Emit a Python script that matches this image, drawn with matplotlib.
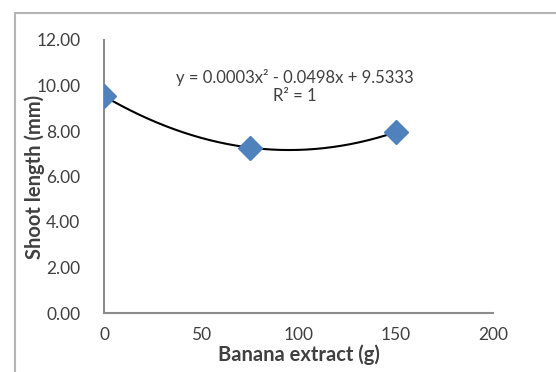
import numpy as np
import matplotlib.pyplot as plt
from matplotlib.patches import Rectangle

extract = [0, 75, 150]
shoot = [9.5333, 7.27, 7.95]
xticks = [0, 50, 100, 150, 200]
yticks = [0, 2, 4, 6, 8, 10, 12]

plt.rcParams["font.family"] = ["Lato", "DejaVu Sans"]
txt = "#404040"

fig = plt.figure(figsize=(5.56, 3.72), dpi=100)
fig.patches.append(Rectangle((15 / 556, -0.1), 1.2, 1 - 13 / 372 + 0.1,
                             transform=fig.transFigure, fill=False,
                             edgecolor="#b4b4b4", linewidth=1.5))
ax = fig.add_axes([104 / 556, 59 / 372, 389 / 556, 273 / 372])

# quadratic trendline through the points
z = np.polyfit(extract, shoot, 2)
p = np.poly1d(z)
xs = np.linspace(0, 150, 200)
ax.plot(xs, p(xs), color="black", linewidth=1.5, zorder=2)
ax.plot(extract, shoot, linestyle="none", marker="D", markersize=12,
        color="#4f81bd", zorder=3)

ax.set_xlim(0, 200)
ax.set_ylim(0, 12)
ax.set_xticks(xticks)
ax.set_yticks(yticks)
ax.set_yticklabels([f"{v:.2f}" for v in yticks])
ax.tick_params(length=0, labelsize=12.5, colors=txt)
ax.tick_params(axis="y", pad=17)
ax.tick_params(axis="x", pad=10)
for s in ["top", "right"]:
    ax.spines[s].set_visible(False)
for s in ["left", "bottom"]:
    ax.spines[s].set_color("#8c8c8c")
    ax.spines[s].set_linewidth(1.5)

ax.set_xlabel("Banana extract (g)", fontsize=14.5, fontweight="bold",
              color=txt, labelpad=1)
ax.set_ylabel("Shoot length (mm)", fontsize=14.5, fontweight="bold",
              color=txt, labelpad=-6)

ax.text(98, 9.95, "y = 0.0003x² - 0.0498x + 9.5333\nR² = 1", ha="center",
        va="center", fontsize=12, color=txt, linespacing=1.2)

fig.savefig("out.png", dpi=100)
